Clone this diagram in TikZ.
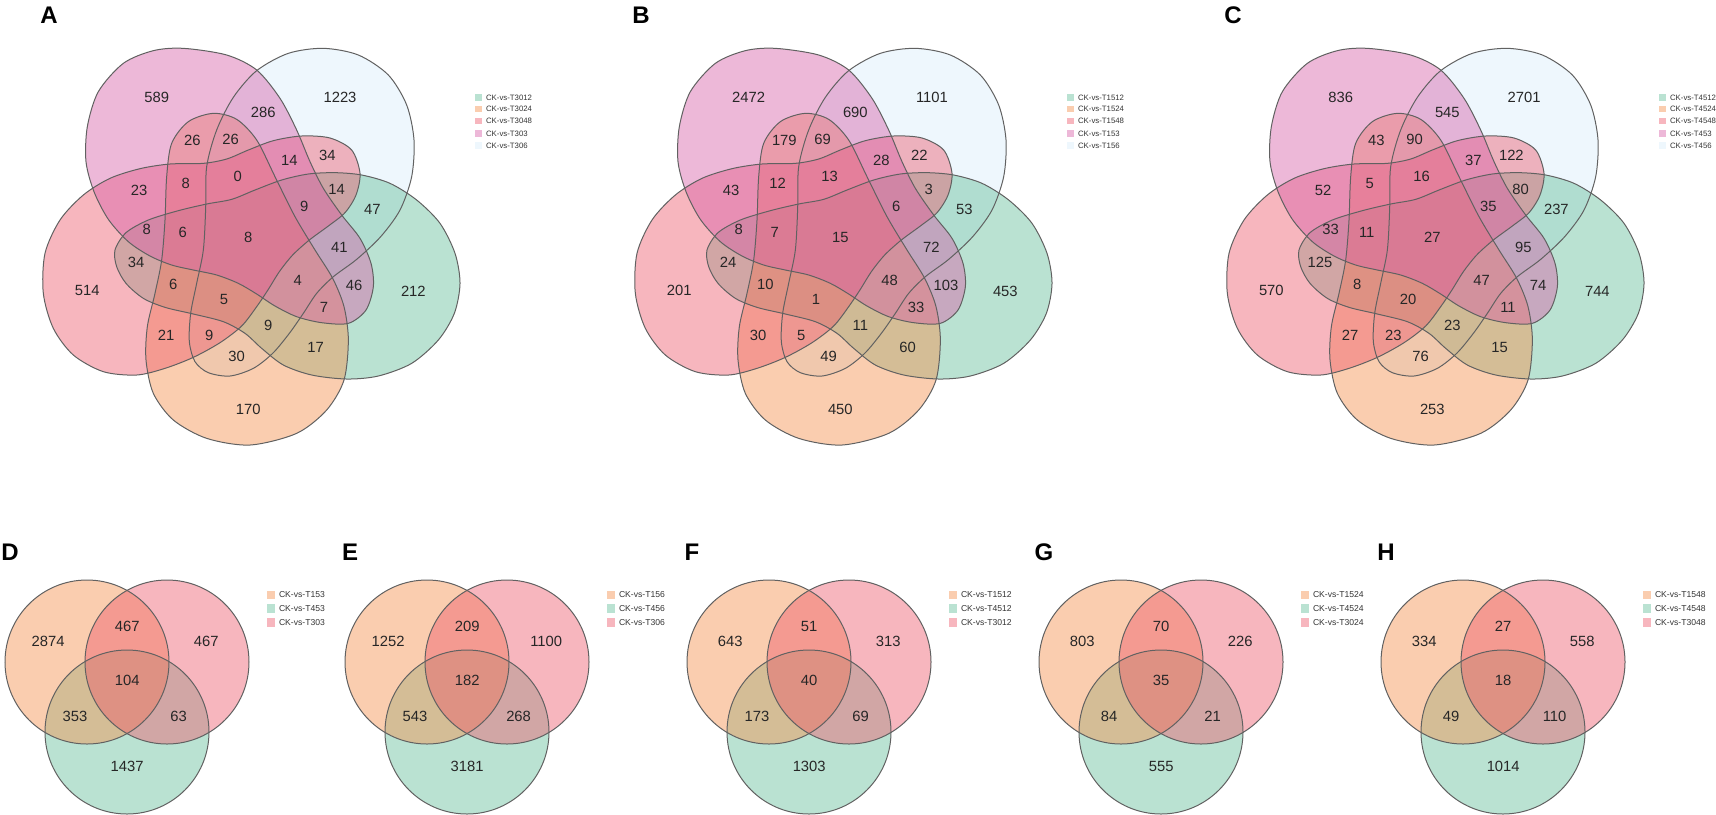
\documentclass[tikz,border=0pt]{standalone}
\usepackage{fontspec}
\setmainfont{Liberation Sans}
\definecolor{cGreen}{RGB}{102,191,155}
\definecolor{cOrange}{RGB}{244,144,77}
\definecolor{cPink}{RGB}{237,93,111}
\definecolor{cMag}{RGB}{215,97,168}
\definecolor{cBlue}{RGB}{217,237,250}
\tikzset{
  setf/.style={fill=#1, fill opacity=0.45},
  edge/.style={draw=black!62, line width=0.5pt},
  num5/.style={font=\fontsize{7.4}{8}\selectfont, inner sep=0pt, text=black!85},
  num3/.style={font=\fontsize{7.4}{8}\selectfont, inner sep=0pt, text=black!85},
  lab/.style={font=\fontsize{12}{14}\selectfont\bfseries, inner sep=0pt},
  leg5/.style={font=\fontsize{3.9}{4.5}\selectfont, anchor=west, inner sep=0pt, text=black!80},
  leg3/.style={font=\fontsize{4.3}{5}\selectfont, anchor=west, inner sep=0pt, text=black!80},
  sw5/.style={minimum size=3.4pt, inner sep=0pt, fill=#1, fill opacity=0.45},
  sw3/.style={minimum size=4.3pt, inner sep=0pt, fill=#1, fill opacity=0.45},
}
% eggs (units: 1/3 px, origin at panel corner)
\newcommand\eggOr{plot[smooth cycle] coordinates {(520,280) (590,298) (650,360) (705,470) (765,590) (825,690) (878,775) (912,860) (925,960) (912,1080) (860,1170) (770,1240) (630,1275) (500,1255) (400,1200) (340,1120) (318,1020) (322,920) (345,820) (365,720) (375,600) (380,470) (395,370) (445,305)}}
\newcommand\eggMa{plot[smooth cycle] coordinates {(430,85) (560,105) (650,150) (720,235) (770,330) (810,425) (850,505) (905,585) (960,655) (993,730) (1000,800) (978,870) (925,910) (845,908) (770,890) (705,858) (650,822) (595,790) (530,765) (460,750) (395,735) (330,708) (265,665) (205,598) (162,515) (138,425) (142,320) (175,215) (250,130) (340,92)}}
\newcommand\eggPi{plot[smooth cycle] coordinates {(960,460) (948,525) (915,578) (865,618) (808,660) (758,705) (718,755) (685,808) (650,860) (605,918) (540,968) (460,1012) (375,1045) (290,1065) (190,1055) (100,1005) (40,925) (10,820) (15,700) (60,600) (130,525) (210,475) (300,446) (390,432) (490,430) (560,417) (625,390) (700,362) (785,348) (870,354) (935,390)}}
\newcommand\eggGr{plot[smooth cycle] coordinates {(225,690) (258,638) (325,600) (415,572) (500,552) (575,538) (645,510) (725,480) (805,462) (885,458) (965,465) (1050,490) (1130,540) (1200,610) (1245,700) (1260,790) (1243,880) (1195,960) (1115,1030) (1015,1068) (920,1077) (815,1065) (730,1035) (665,985) (615,940) (550,905) (460,882) (375,862) (310,835) (258,790) (230,740)}}
\newcommand\eggBl{plot[smooth cycle] coordinates {(850,85) (955,105) (1045,165) (1100,255) (1122,360) (1115,470) (1080,570) (1022,650) (950,718) (880,770) (830,820) (790,880) (748,940) (698,1000) (640,1045) (570,1068) (505,1058) (465,1025) (448,965) (452,880) (470,790) (490,690) (497,565) (500,440) (530,330) (580,232) (650,152) (745,100)}}
\newcommand\fiveshapes{%
  \fill[setf=cBlue] \eggBl;
  \fill[setf=cGreen] \eggGr;
  \fill[setf=cOrange] \eggOr;
  \fill[setf=cPink] \eggPi;
  \fill[setf=cMag] \eggMa;
  \draw[edge] \eggBl; \draw[edge] \eggGr; \draw[edge] \eggOr; \draw[edge] \eggPi; \draw[edge] \eggMa;
}
\newcommand\fivelegend[6]{%
  \node[sw5=cGreen]  (#1s1) at (1315,232) {}; \node[leg5] (#1t1) at (1337,232) {CK-vs-#2};
  \node[sw5=cOrange] (#1s2) at (1315,267) {}; \node[leg5] (#1t2) at (1337,267) {CK-vs-#3};
  \node[sw5=cPink]   (#1s3) at (1315,303) {}; \node[leg5] (#1t3) at (1337,303) {CK-vs-#4};
  \node[sw5=cMag]    (#1s4) at (1315,340) {}; \node[leg5] (#1t4) at (1337,340) {CK-vs-#5};
  \node[sw5=cBlue]   (#1s5) at (1315,377) {}; \node[leg5] (#1t5) at (1337,377) {CK-vs-#6};
}
\newcommand\threeshapes{%
  \fill[setf=cGreen] (127,732) circle[radius=41pt];
  \fill[setf=cOrange] (87,662) circle[radius=41pt];
  \fill[setf=cPink] (167,662) circle[radius=41pt];
  \draw[edge] (127,732) circle[radius=41pt];
  \draw[edge] (87,662) circle[radius=41pt];
  \draw[edge] (167,662) circle[radius=41pt];
}
\newcommand\threeset[8]{%
  \threeshapes
  \node[num3] (#1n1) at (48.2,641) {#2};
  \node[num3] (#1n2) at (127.2,626.7) {#3};
  \node[num3] (#1n3) at (206.2,641) {#4};
  \node[num3] (#1n4) at (127.2,680.7) {#5};
  \node[num3] (#1n5) at (75,716.7) {#6};
  \node[num3] (#1n6) at (178.6,716.7) {#7};
  \node[num3] (#1n7) at (127.2,766.7) {#8};
}
\newcommand\threelegend[4]{%
  \node[sw3=cOrange] (#1s1) at (270.8,595) {}; \node[leg3] (#1t1) at (278.6,595) {CK-vs-#2};
  \node[sw3=cGreen]  (#1s2) at (270.8,608.7) {}; \node[leg3] (#1t2) at (278.6,608.7) {CK-vs-#3};
  \node[sw3=cPink]   (#1s3) at (270.8,622.3) {}; \node[leg3] (#1t3) at (278.6,622.3) {CK-vs-#4};
}
\begin{document}
\begin{tikzpicture}[x=0.5pt,y=-0.5pt]
\useasboundingbox (0,0) rectangle (1716,814);
% ---------- A ----------
\node[lab] (labA) at (49,15.5) {A};
\begin{scope}[shift={(40,20)}, x=0.16667pt, y=-0.16667pt]
\fiveshapes
\foreach[count=\i] \px/\py/\t in {350/232/589,900/232/1223,670/277/286,457/362/26,572/357/26,862/407/34,748/420/14,593/470/0,297/512/23,437/490/8,890/507/14,793/560/9,997/567/47,320/627/8,428/637/6,625/652/8,898/683/41,288/727/34,142/812/514,400/792/6,773/780/4,942/797/46,1120/815/212,552/838/5,852/862/7,685/917/9,378/947/21,508/947/9,827/983/17,590/1008/30,625/1167/170}
  \node[num5] (A-\i) at (\px,\py) {\t};
\fivelegend{A}{T3012}{T3024}{T3048}{T303}{T306}
\end{scope}
% ---------- B ----------
\node[lab] (labB) at (641,15.5) {B};
\begin{scope}[shift={(632,20)}, x=0.16667pt, y=-0.16667pt]
\fiveshapes
\foreach[count=\i] \px/\py/\t in {350/232/2472,900/232/1101,670/277/690,457/362/179,572/357/69,862/407/22,748/420/28,593/470/13,297/512/43,437/490/12,890/507/3,793/560/6,997/567/53,320/627/8,428/637/7,625/652/15,898/683/72,288/727/24,142/812/201,400/792/10,773/780/48,942/797/103,1120/815/453,552/838/1,852/862/33,685/917/11,378/947/30,508/947/5,827/983/60,590/1008/49,625/1167/450}
  \node[num5] (B-\i) at (\px,\py) {\t};
\fivelegend{B}{T1512}{T1524}{T1548}{T153}{T156}
\end{scope}
% ---------- C ----------
\node[lab] (labC) at (1233,15.5) {C};
\begin{scope}[shift={(1224,20)}, x=0.16667pt, y=-0.16667pt]
\fiveshapes
\foreach[count=\i] \px/\py/\t in {350/232/836,900/232/2701,670/277/545,457/362/43,572/357/90,862/407/122,748/420/37,593/470/16,297/512/52,437/490/5,890/507/80,793/560/35,997/567/237,320/627/33,428/637/11,625/652/27,898/683/95,288/727/125,142/812/570,400/792/8,773/780/47,942/797/74,1120/815/744,552/838/20,852/862/11,685/917/23,378/947/27,508/947/23,827/983/15,590/1008/76,625/1167/253}
  \node[num5] (C-\i) at (\px,\py) {\t};
\fivelegend{C}{T4512}{T4524}{T4548}{T453}{T456}
\end{scope}
% ---------- D-H ----------
\begin{scope}[shift={(0,0)}]
\node[lab] (labD) at (10,552.5) {D};
\threeset{D}{2874}{467}{467}{104}{353}{63}{1437}
\threelegend{D}{T153}{T453}{T303}
\end{scope}
\begin{scope}[shift={(340,0)}]
\node[lab] (labE) at (10,552.5) {E};
\threeset{E}{1252}{209}{1100}{182}{543}{268}{3181}
\threelegend{E}{T156}{T456}{T306}
\end{scope}
\begin{scope}[shift={(682,0)}]
\node[lab] (labF) at (10,552.5) {F};
\threeset{F}{643}{51}{313}{40}{173}{69}{1303}
\threelegend{F}{T1512}{T4512}{T3012}
\end{scope}
\begin{scope}[shift={(1034,0)}]
\node[lab] (labG) at (10,552.5) {G};
\threeset{G}{803}{70}{226}{35}{84}{21}{555}
\threelegend{G}{T1524}{T4524}{T3024}
\end{scope}
\begin{scope}[shift={(1376,0)}]
\node[lab] (labH) at (10,552.5) {H};
\threeset{H}{334}{27}{558}{18}{49}{110}{1014}
\threelegend{H}{T1548}{T4548}{T3048}
\end{scope}
\end{tikzpicture}
\end{document}
